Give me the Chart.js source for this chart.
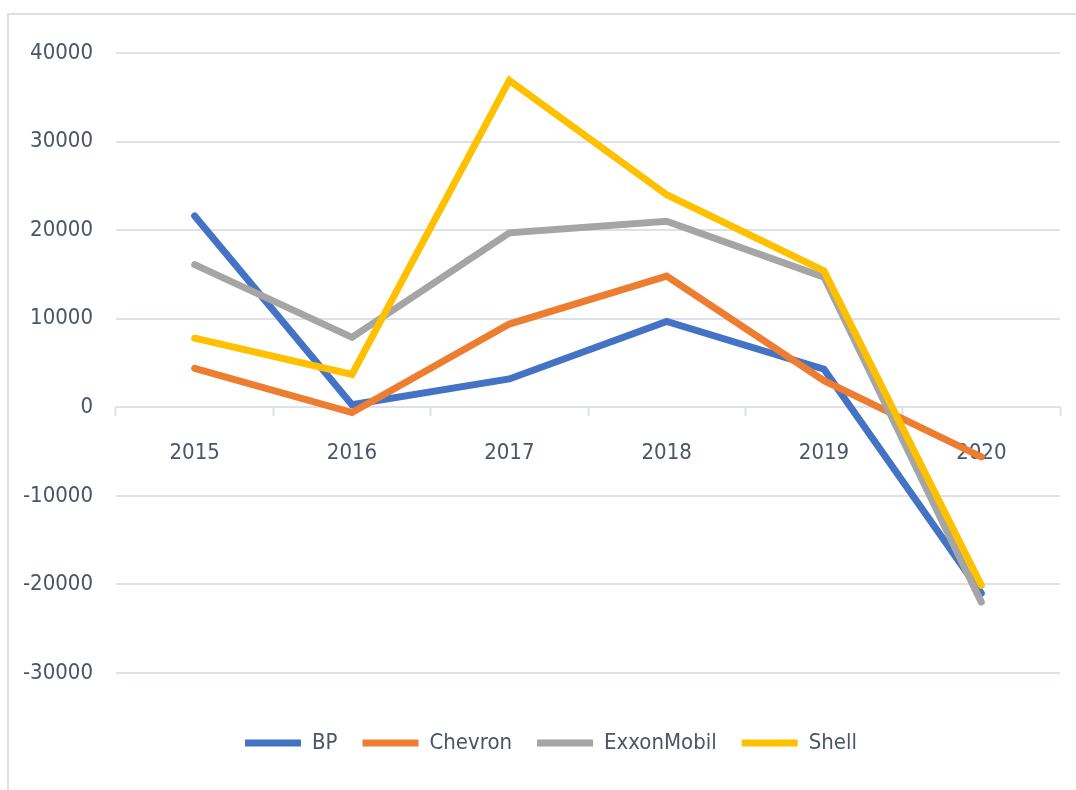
<!DOCTYPE html>
<html>
<head>
<meta charset="utf-8">
<script src="https://cdn.jsdelivr.net/npm/chart.js@4.4.1/dist/chart.umd.min.js"></script>
<style>
  html, body { margin: 0; padding: 0; background: #fff; }
  body { width: 1076px; height: 790px; position: relative; overflow: hidden; }
  #frame { position: absolute; left: 7px; top: 13px; width: 1200px; height: 900px;
           border: 2px solid #dcdfe4; box-sizing: border-box; }
  #wrap { position: absolute; left: 0; top: 0; width: 1076px; height: 790px; }
</style>
</head>
<body>
<div id="frame"></div>
<div id="wrap"><canvas id="chart" width="1076" height="790"></canvas></div>
<script>
var years = ['2015', '2016', '2017', '2018', '2019', '2020'];
var bp = [21600, 300, 3200, 9700, 4300, -21000];
var chevron = [4400, -600, 9400, 14800, 3000, -5600];
var exxonMobil = [16100, 7900, 19700, 21000, 14700, -22000];
var shell = [7800, 3700, 36900, 24000, 15400, -20100];

var fontFamily = "'Liberation Sans Narrow', 'DejaVu Sans Condensed', sans-serif";
var textColor = '#4a5568';
var gridColor = '#dde1e8';

Chart.defaults.font.family = fontFamily;
Chart.defaults.font.size = 22;
Chart.defaults.color = textColor;

function series(label, data, color, order) {
  return {
    label: label,
    data: data,
    borderColor: color,
    backgroundColor: color,
    borderWidth: 7,
    borderCapStyle: 'round',
    borderJoinStyle: 'miter',
    pointRadius: 0,
    pointHoverRadius: 0,
    pointStyle: 'line',
    tension: 0,
    fill: false,
    order: order
  };
}

// nudge the legend so it sits where excel centred it
var legendShift = {
  id: 'legendShift',
  beforeDraw: function(chart) {
    chart.legend.left += 16;
    chart.legend.right += 16;
  }
};

var ctx = document.getElementById('chart');
new Chart(ctx, {
  type: 'line',
  data: {
    labels: years,
    datasets: [
      series('BP', bp, '#4472c4', 4),
      series('Chevron', chevron, '#ed7d31', 3),
      series('ExxonMobil', exxonMobil, '#a5a5a5', 2),
      series('Shell', shell, '#ffc000', 1)
    ]
  },
  plugins: [legendShift],
  options: {
    responsive: false,
    animation: false,
    layout: { padding: { top: 53, left: 10, right: 16, bottom: 26 } },
    plugins: {
      tooltip: { enabled: false },
      legend: {
        position: 'bottom',
        labels: {
          usePointStyle: true,
          pointStyleWidth: 56,
          boxWidth: 56,
          padding: 25,
          color: textColor,
          font: { size: 22 },
          sort: function(a, b) { return a.datasetIndex - b.datasetIndex; }
        }
      }
    },
    scales: {
      x: {
        type: 'category',
        position: { y: 0 },
        offset: true,
        z: 1,
        grid: {
          offset: true,
          drawOnChartArea: false,
          drawTicks: true,
          tickLength: 8,
          tickColor: gridColor,
          tickWidth: 2
        },
        border: { display: true, color: gridColor, width: 2 },
        ticks: { padding: 25, color: textColor, maxRotation: 0 }
      },
      xb: {
        type: 'category',
        axis: 'x',
        position: 'bottom',
        display: true,
        grid: { display: false, drawTicks: false },
        border: { display: false },
        ticks: { display: false },
        afterFit: function(s) { s.height = 34; }
      },
      y: {
        min: -30000,
        max: 40000,
        ticks: {
          stepSize: 10000,
          padding: 23,
          color: textColor,
          callback: function(v) { return String(v); }
        },
        grid: { color: gridColor, lineWidth: 2, drawTicks: false },
        border: { display: false },
        afterFit: function(s) { s.width = 106; }
      }
    }
  }
});
</script>
</body>
</html>
